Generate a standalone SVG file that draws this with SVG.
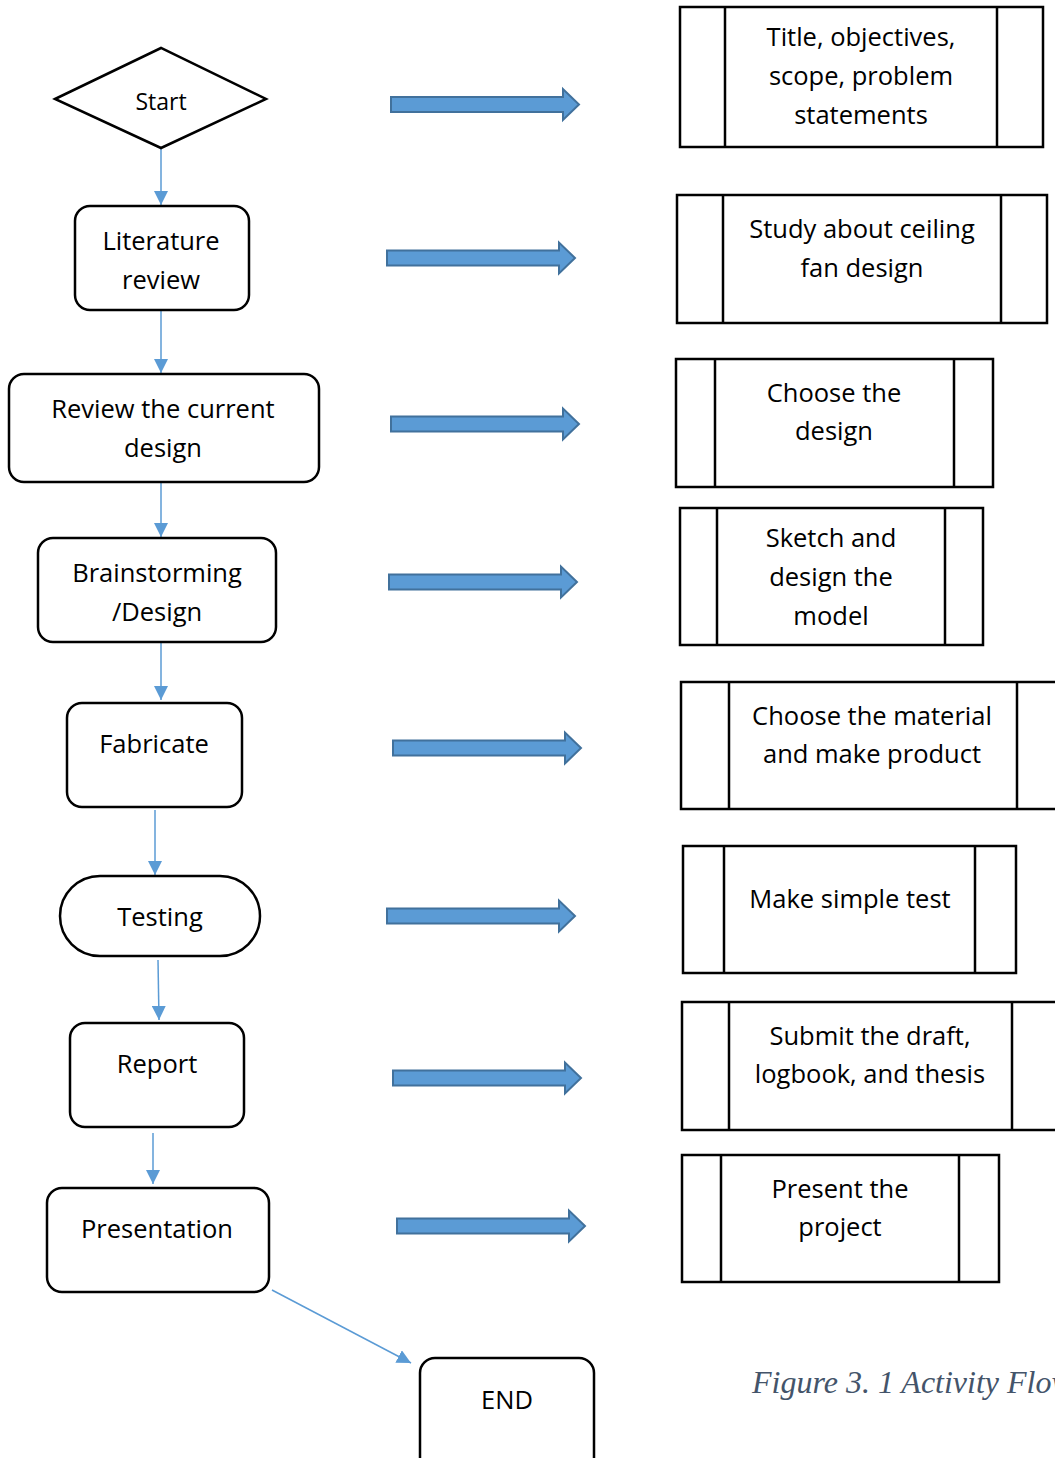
<svg xmlns="http://www.w3.org/2000/svg" width="1055" height="1458" viewBox="0 0 1055 1458">
<defs>
<style>
.n{fill:#fff;stroke:#000;stroke-width:2.5}
.t{font-family:"Open Sans","Liberation Sans",sans-serif;font-size:25.5px;fill:#000;text-anchor:middle}
.c{stroke:#5b9bd5;stroke-width:1.5;fill:none}
.ba{fill:#5b9bd5;stroke:#41719c;stroke-width:2}
.cap{font-family:"Liberation Serif",serif;font-style:italic;font-size:32px;fill:#44546a}
</style>
<marker id="ah" viewBox="0 0 10 10" refX="10" refY="5" markerWidth="14" markerHeight="14" markerUnits="userSpaceOnUse" orient="auto"><path d="M0,0L10,5L0,10z" fill="#5b9bd5"/></marker>
<path id="blk" d="M0,-7.5H172V-15.5L188,0L172,15.5V7.5H0Z"/>
</defs>
<rect width="1055" height="1458" fill="#fff"/>
<g id="connectors">
<line class="c" x1="161" y1="149" x2="161" y2="205" marker-end="url(#ah)"/>
<line class="c" x1="161" y1="311" x2="161" y2="373" marker-end="url(#ah)"/>
<line class="c" x1="161" y1="483" x2="161" y2="537" marker-end="url(#ah)"/>
<line class="c" x1="161" y1="643" x2="161" y2="700" marker-end="url(#ah)"/>
<line class="c" x1="155" y1="810" x2="155" y2="875" marker-end="url(#ah)"/>
<line class="c" x1="158" y1="960" x2="159" y2="1020" marker-end="url(#ah)"/>
<line class="c" x1="153" y1="1133" x2="153" y2="1184" marker-end="url(#ah)"/>
<line class="c" x1="272" y1="1290" x2="411" y2="1363" marker-end="url(#ah)"/>
</g>
<g id="block-arrows">
<use href="#blk" class="ba" transform="translate(391,104.5)"/>
<use href="#blk" class="ba" transform="translate(387,258)"/>
<use href="#blk" class="ba" transform="translate(391,424)"/>
<use href="#blk" class="ba" transform="translate(389,582)"/>
<use href="#blk" class="ba" transform="translate(393,748)"/>
<use href="#blk" class="ba" transform="translate(387,916)"/>
<use href="#blk" class="ba" transform="translate(393,1078)"/>
<use href="#blk" class="ba" transform="translate(397,1226)"/>
</g>
<g id="start"><polygon class="n" points="55,99 161,48 266,99 161,148"/><text class="t" x="161" y="110" style="font-size:23px">Start</text></g>
<g id="literature"><rect class="n" x="75" y="206" width="174" height="104" rx="15"/><text class="t" x="161" y="250">Literature</text><text class="t" x="161" y="289">review</text></g>
<g id="review"><rect class="n" x="9" y="374" width="310" height="108" rx="15"/><text class="t" x="163" y="418">Review the current</text><text class="t" x="163" y="457">design</text></g>
<g id="brainstorming"><rect class="n" x="38" y="538" width="238" height="104" rx="15"/><text class="t" x="157" y="582">Brainstorming</text><text class="t" x="157" y="621">/Design</text></g>
<g id="fabricate"><rect class="n" x="67" y="703" width="175" height="104" rx="15"/><text class="t" x="154" y="753">Fabricate</text></g>
<g id="testing"><rect class="n" x="60" y="876" width="200" height="80" rx="40"/><text class="t" x="160" y="926">Testing</text></g>
<g id="report"><rect class="n" x="70" y="1023" width="174" height="104" rx="15"/><text class="t" x="157" y="1073">Report</text></g>
<g id="presentation"><rect class="n" x="47" y="1188" width="222" height="104" rx="15"/><text class="t" x="157" y="1238">Presentation</text></g>
<g id="end"><rect class="n" x="420" y="1358" width="174" height="120" rx="15"/><text class="t" x="507" y="1409">END</text></g>
<g id="p1"><rect class="n" x="680" y="7" width="363" height="140"/><line class="n" x1="725" y1="7" x2="725" y2="147"/><line class="n" x1="997" y1="7" x2="997" y2="147"/><text class="t" x="861" y="46">Title, objectives,</text><text class="t" x="861" y="85">scope, problem</text><text class="t" x="861" y="124">statements</text></g>
<g id="p2"><rect class="n" x="677" y="195" width="370" height="128"/><line class="n" x1="723" y1="195" x2="723" y2="323"/><line class="n" x1="1001" y1="195" x2="1001" y2="323"/><text class="t" x="862" y="238">Study about ceiling</text><text class="t" x="862" y="277">fan design</text></g>
<g id="p3"><rect class="n" x="676" y="359" width="317" height="128"/><line class="n" x1="715" y1="359" x2="715" y2="487"/><line class="n" x1="954" y1="359" x2="954" y2="487"/><text class="t" x="834" y="402">Choose the</text><text class="t" x="834" y="440">design</text></g>
<g id="p4"><rect class="n" x="680" y="508" width="303" height="137"/><line class="n" x1="717" y1="508" x2="717" y2="645"/><line class="n" x1="945" y1="508" x2="945" y2="645"/><text class="t" x="831" y="547">Sketch and</text><text class="t" x="831" y="586">design the</text><text class="t" x="831" y="625">model</text></g>
<g id="p5"><rect class="n" x="681" y="682" width="400" height="127"/><line class="n" x1="729" y1="682" x2="729" y2="809"/><line class="n" x1="1017" y1="682" x2="1017" y2="809"/><text class="t" x="872" y="725">Choose the material</text><text class="t" x="872" y="763">and make product</text></g>
<g id="p6"><rect class="n" x="683" y="846" width="333" height="127"/><line class="n" x1="724" y1="846" x2="724" y2="973"/><line class="n" x1="975" y1="846" x2="975" y2="973"/><text class="t" x="850" y="908">Make simple test</text></g>
<g id="p7"><rect class="n" x="682" y="1002" width="400" height="128"/><line class="n" x1="729" y1="1002" x2="729" y2="1130"/><line class="n" x1="1012" y1="1002" x2="1012" y2="1130"/><text class="t" x="870" y="1045">Submit the draft,</text><text class="t" x="870" y="1083">logbook, and thesis</text></g>
<g id="p8"><rect class="n" x="682" y="1155" width="317" height="127"/><line class="n" x1="721" y1="1155" x2="721" y2="1282"/><line class="n" x1="959" y1="1155" x2="959" y2="1282"/><text class="t" x="840" y="1198">Present the</text><text class="t" x="840" y="1236">project</text></g>
<text class="cap" x="752" y="1393">Figure 3. 1 Activity Flow</text>
</svg>
